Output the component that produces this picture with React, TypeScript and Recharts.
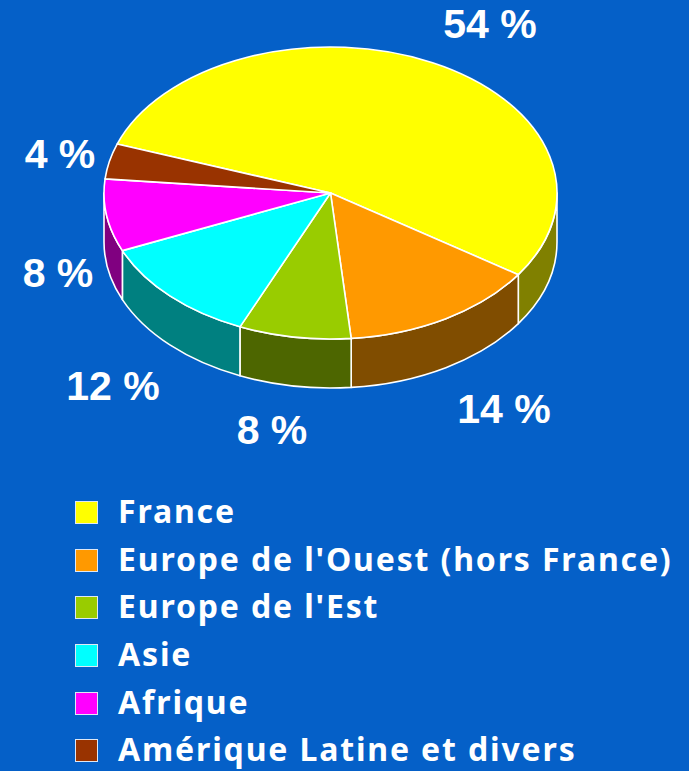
import { PieChart, Pie, Legend } from "recharts";

const W = 689;
const H = 771;

const categories = ["France", "Europe de l'Ouest (hors France)", "Europe de l'Est", "Asie", "Afrique", "Amérique Latine et divers"];
// the labels show them rounded
const shares = [54, 14.1, 8, 12, 8, 3.9];
const topColors = ["#ffff00", "#ff9900", "#99cc00", "#00ffff", "#ff00ff", "#993300"];
const wallColors = ["#808000", "#804d00", "#4d6600", "#008080", "#800080", "#4d1a00"];

const data = categories.map((name, i) => ({ name, value: shares[i], fill: topColors[i], wall: wallColors[i] }));

// where each percent label sits (text centre)
const labelSpots = [
    [490, 24],
    [504, 409],
    [272, 430],
    [113, 386],
    [58, 273],
    [60, 154],
];

const CX = 330.5;
const CY = 193;
const RX = 226.5;
const RY = 146;
const DEPTH = 49;
const START = 160.4;

const px = (deg: number) => CX + RX * Math.cos((deg * Math.PI) / 180);
const py = (deg: number) => CY - RY * Math.sin((deg * Math.PI) / 180);

// Pie gives us the angles, we squash them to an ellipse and add the side wall
function Slice3D(props: any) {
    const { startAngle, endAngle, fill, wall } = props;
    const large = Math.abs(startAngle - endAngle) > 180 ? 1 : 0;
    const top = `M${CX},${CY} L${px(startAngle)},${py(startAngle)} A${RX},${RY} 0 ${large} 1 ${px(endAngle)},${py(endAngle)} Z`;

    const hi = Math.min(startAngle, 0);
    const lo = Math.max(endAngle, -180);
    let side = null;
    if (hi > lo) {
        const d =
            `M${px(hi)},${py(hi)} A${RX},${RY} 0 0 1 ${px(lo)},${py(lo)} ` +
            `L${px(lo)},${py(lo) + DEPTH} A${RX},${RY} 0 0 0 ${px(hi)},${py(hi) + DEPTH} Z`;
        side = <path d={d} fill={wall} stroke="#ffffff" strokeWidth={1.6} strokeLinejoin="round" />;
    }
    return (
        <g>
            {side}
            <path d={top} fill={fill} stroke="#ffffff" strokeWidth={1.6} strokeLinejoin="round" />
        </g>
    );
}

function PercentLabel(props: any) {
    const [x, y] = labelSpots[props.index];
    return (
        <text
            x={x}
            y={y}
            textAnchor="middle"
            dominantBaseline="central"
            fill="#ffffff"
            fontFamily="'Liberation Sans', Arial, sans-serif"
            fontWeight={700}
            fontSize={41}
        >
            {`${Math.round(props.value)} %`}
        </text>
    );
}

function LegendList({ payload }: any) {
    const rows = [...(payload ?? [])].sort((a: any, b: any) => categories.indexOf(a.value) - categories.indexOf(b.value));
    return (
        <div style={{ fontFamily: "'Noto Sans', sans-serif", fontWeight: 700, fontSize: 32, letterSpacing: 1.85, lineHeight: 1, color: "#ffffff" }}>
            {rows.map((entry: any) => (
                <div key={entry.value} style={{ display: "flex", alignItems: "center", height: 47.6, whiteSpace: "nowrap" }}>
                    <span
                        style={{
                            width: 23,
                            height: 23,
                            boxSizing: "border-box",
                            marginRight: 20,
                            background: entry.color,
                            border: "1px solid #dfe8f5",
                            flex: "none",
                        }}
                    />
                    <span style={{ position: "relative", top: -1.5 }}>{entry.value}</span>
                </div>
            ))}
        </div>
    );
}

export default function App() {
    return (
        <div style={{ position: "absolute", left: 0, top: 0, width: W, height: H, background: "#0560c8", overflow: "hidden" }}>
            <PieChart width={W} height={H} margin={{ top: 0, right: 0, bottom: 0, left: 0 }}>
                <Pie
                    data={data}
                    dataKey="value"
                    nameKey="name"
                    cx={CX}
                    cy={CY}
                    outerRadius={RX}
                    startAngle={START}
                    endAngle={START - 360}
                    shape={Slice3D}
                    label={PercentLabel}
                    labelLine={false}
                    isAnimationActive={false}
                />
                <Legend
                    content={LegendList}
                    layout="vertical"
                    wrapperStyle={{ position: "absolute", left: 75, top: 489, width: 610, bottom: "auto" }}
                />
            </PieChart>
        </div>
    );
}
